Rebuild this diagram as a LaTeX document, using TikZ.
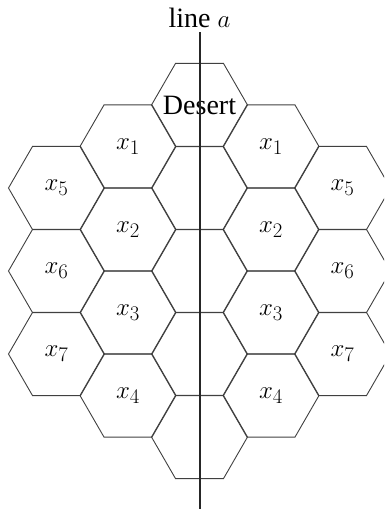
\documentclass[tikz,border=0pt]{standalone}
\usepackage{fontspec}
\setmainfont{Liberation Serif}
\usepackage{tikz}
\usetikzlibrary{shapes.geometric}

\begin{document}
\begin{tikzpicture}[
    x=1pt, y=-1pt,
    hexcell/.style={draw=black!75, line width=0.9pt, regular polygon,
                    regular polygon sides=6, minimum size=96pt,
                    inner sep=0pt, outer sep=0pt,
                    font=\fontsize{28}{30}\selectfont},
    axis/.style={draw=black!85, line width=2pt}
]
    \useasboundingbox (0,0) rectangle (384,509);
    \clip (0,0) rectangle (384,509);

    % middle column, cut by line a
    \node[hexcell, label={[font=\fontsize{28}{30}\selectfont]center:Desert}]
        (M0) at (199.5,105) {};
    \foreach \i/\y in {1/188,2/271,3/354,4/437}
        \node[hexcell] (M\i) at (199.5,\y) {};

    % inner columns
    \foreach \i/\y in {1/146.5,2/229.5,3/312.5,4/395.5} {
        \node[hexcell] (L\i) at (128,\y) {$x_{\i}$};
        \node[hexcell] (R\i) at (271,\y) {$x_{\i}$};
    }
    % outer columns
    \foreach \i/\y in {5/188,6/271,7/354} {
        \node[hexcell] (LL\i) at (56.5,\y) {$x_{\i}$};
        \node[hexcell] (RR\i) at (342.5,\y) {$x_{\i}$};
    }

    \coordinate (atop) at (199.5,32);
    \coordinate (abot) at (199.5,509);
    \draw[axis] (atop) -- (abot);
    \node[anchor=base, inner sep=0pt, font=\fontsize{28}{30}\selectfont]
        (lbl) at (199.5,27) {line $a$};
\end{tikzpicture}
\end{document}
